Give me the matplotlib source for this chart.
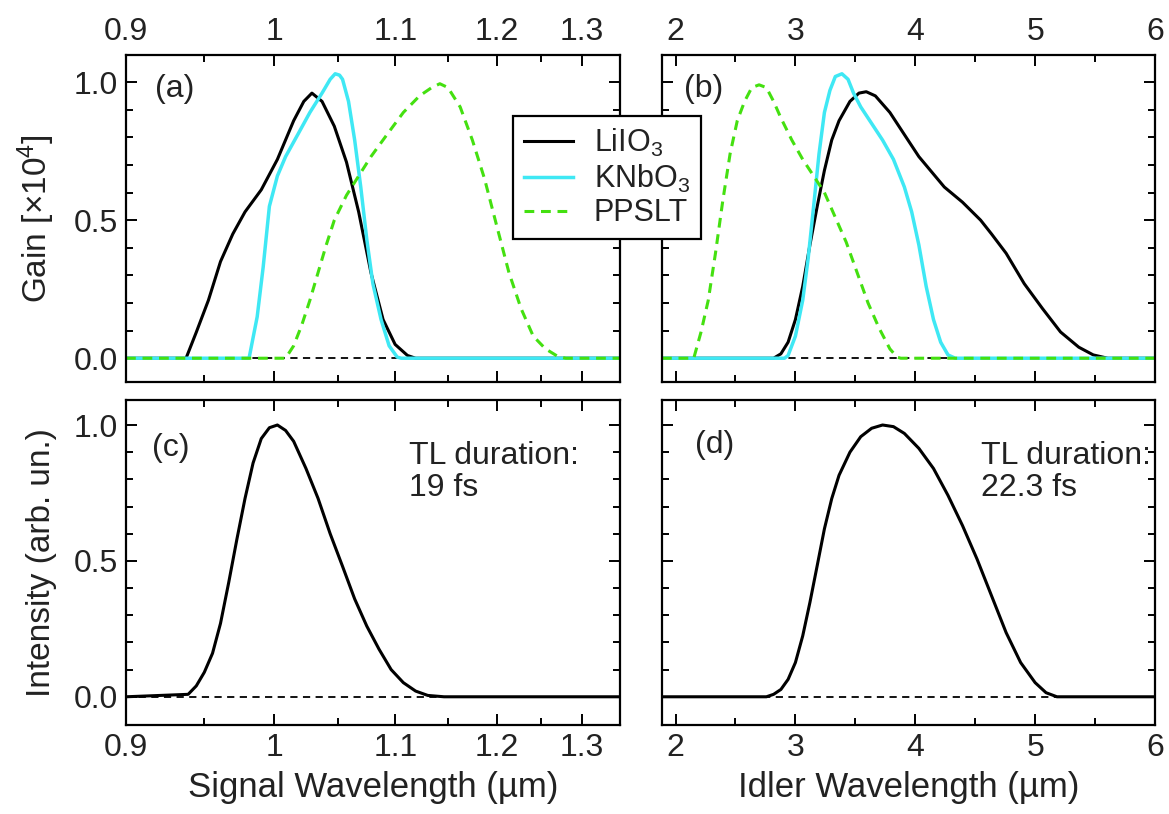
import numpy as np
import matplotlib
matplotlib.use("Agg")
from matplotlib import pyplot as plt
from matplotlib.ticker import FixedLocator, FixedFormatter

plt.rcParams['font.family'] = ['Liberation Sans', 'DejaVu Sans']
plt.rcParams['mathtext.default'] = 'regular'

# ---- data ----
# (a) gain vs signal wavelength (um)
sig_lio_x = [0.90, 0.938, 0.9448, 0.953, 0.9613, 0.9699, 0.9786, 0.9904, 1.0024, 1.0148, 1.0227,
             1.0291, 1.0372, 1.0472, 1.0573, 1.0676, 1.0782, 1.0889, 1.0997, 1.111, 1.1186, 1.35]
sig_lio_y = [0.0, 0.0, 0.094, 0.21, 0.35, 0.45, 0.53, 0.61, 0.72, 0.86, 0.93,
             0.96, 0.93, 0.84, 0.71, 0.53, 0.31, 0.14, 0.05, 0.01, 0.0, 0.0]
sig_knb_x = [0.90, 0.9815, 0.9874, 0.9918, 0.9964, 1.0024, 1.0086, 1.018, 1.0275, 1.0372, 1.0438,
             1.0479, 1.0515, 1.054, 1.059, 1.0642, 1.0694, 1.0746, 1.0799, 1.0871, 1.0943, 1.1016,
             1.1053, 1.35]
sig_knb_y = [0.0, 0.0, 0.15, 0.33, 0.55, 0.66, 0.73, 0.81, 0.89, 0.96, 1.01,
             1.03, 1.025, 1.01, 0.93, 0.79, 0.62, 0.43, 0.27, 0.14, 0.045, 0.004,
             0.0, 0.0]
sig_pps_x = [0.90, 1.0086, 1.0148, 1.0211, 1.0275, 1.034, 1.0406, 1.0472, 1.0573, 1.0676, 1.0782,
             1.0924, 1.1072, 1.1223, 1.1339, 1.1418, 1.1498, 1.162, 1.1745, 1.1872, 1.2002,
             1.2136, 1.2271, 1.241, 1.2553, 1.2698, 1.2797, 1.35]
sig_pps_y = [0.0, 0.0, 0.045, 0.12, 0.21, 0.31, 0.41, 0.50, 0.59, 0.66, 0.73,
             0.81, 0.89, 0.95, 0.98, 0.994, 0.98, 0.91, 0.79, 0.65, 0.48,
             0.31, 0.18, 0.08, 0.034, 0.007, 0.0, 0.0]

# (b) gain vs idler wavelength (um)
idl_lio_x = [1.887, 2.818, 2.879, 2.939, 3.0, 3.061, 3.121, 3.182, 3.242, 3.303, 3.364, 3.455, 3.530,
             3.591, 3.667, 3.788, 3.939, 4.030, 4.242, 4.394, 4.545, 4.636, 4.758, 4.909, 5.061,
             5.212, 5.364, 5.485, 5.606, 6.0]
idl_lio_y = [0.0, 0.0, 0.016, 0.058, 0.14, 0.26, 0.41, 0.55, 0.68, 0.79, 0.86, 0.93, 0.96,
             0.965, 0.95, 0.89, 0.79, 0.73, 0.62, 0.565, 0.50, 0.45, 0.38, 0.27, 0.18,
             0.095, 0.04, 0.012, 0.0, 0.0]
idl_knb_x = [1.887, 2.909, 2.939, 3.0, 3.061, 3.106, 3.152, 3.197, 3.242, 3.288, 3.333, 3.388, 3.439,
             3.485, 3.545, 3.636, 3.727, 3.818, 3.909, 3.970, 4.030, 4.091, 4.152, 4.212, 4.273,
             4.333, 6.0]
idl_knb_y = [0.0, 0.0, 0.01, 0.08, 0.21, 0.36, 0.55, 0.74, 0.89, 0.97, 1.02, 1.03, 1.01,
             0.96, 0.91, 0.85, 0.79, 0.72, 0.62, 0.53, 0.41, 0.26, 0.14, 0.058, 0.012,
             0.0, 0.0]
idl_pps_x = [1.887, 2.152, 2.212, 2.273, 2.333, 2.394, 2.455, 2.515, 2.576, 2.636, 2.697, 2.758,
             2.818, 2.879, 2.970, 3.061, 3.152, 3.242, 3.333, 3.424, 3.515, 3.606, 3.697,
             3.788, 3.848, 3.879, 6.0]
idl_pps_y = [0.0, 0.0, 0.094, 0.21, 0.38, 0.57, 0.74, 0.86, 0.93, 0.98, 0.99, 0.98,
             0.93, 0.87, 0.79, 0.72, 0.66, 0.60, 0.51, 0.42, 0.31, 0.20, 0.11,
             0.034, 0.004, 0.0, 0.0]

# (c) signal spectrum
sig_int_x = [0.90, 0.9394, 0.9448, 0.9502, 0.9558, 0.9613, 0.967, 0.9728, 0.9786, 0.9844, 0.9904,
             0.9964, 1.0024, 1.0086, 1.0148, 1.0244, 1.034, 1.0438, 1.054, 1.0642, 1.0746,
             1.0853, 1.0961, 1.1072, 1.1186, 1.1301, 1.1459, 1.35]
sig_int_y = [0.0, 0.009, 0.04, 0.09, 0.16, 0.27, 0.42, 0.58, 0.73, 0.86, 0.95,
             0.99, 1.0, 0.98, 0.94, 0.84, 0.73, 0.60, 0.48, 0.36, 0.26,
             0.175, 0.10, 0.052, 0.021, 0.005, 0.0, 0.0]

# (d) idler spectrum
idl_int_x = [1.887, 2.758, 2.818, 2.879, 2.939, 3.0, 3.061, 3.121, 3.182, 3.242, 3.303, 3.364,
             3.455, 3.545, 3.636, 3.727, 3.818, 3.909, 4.030, 4.152, 4.273, 4.394, 4.515,
             4.636, 4.758, 4.879, 5.0, 5.091, 5.182, 6.0]
idl_int_y = [0.0, 0.0, 0.009, 0.027, 0.064, 0.126, 0.224, 0.347, 0.483, 0.618, 0.729, 0.815,
             0.90, 0.957, 0.988, 1.0, 0.994, 0.969, 0.914, 0.84, 0.741, 0.63, 0.507,
             0.372, 0.236, 0.126, 0.052, 0.015, 0.0, 0.0]

sig_major = [0.9, 1.0, 1.1, 1.2, 1.3]
sig_major_lab = ['0.9', '1', '1.1', '1.2', '1.3']
sig_minor = [0.95, 1.05, 1.15, 1.25]
idl_major = [2, 3, 4, 5, 6]
idl_minor = [2.5, 3.5, 4.5, 5.5]

c_lio = 'black'
c_knb = '#3FE8F4'
c_pps = '#44E010'
TXT = '#222222'
FS = 23

fig = plt.figure(figsize=(11.69, 8.14), dpi=100)
W, H = 1169.0, 814.0


def make_ax(x0, x1, y0, y1):
    return fig.add_axes([x0 / W, 1 - y1 / H, (x1 - x0) / W, (y1 - y0) / H])


ax_a = make_ax(126, 620, 55, 381.7)
ax_b = make_ax(662, 1155, 55, 381.7)
ax_c = make_ax(126, 620, 400, 724.5)
ax_d = make_ax(662, 1155, 400, 724.5)


def style(ax, signal, top, ylab):
    for s in ax.spines.values():
        s.set_linewidth(1.6)
    if signal:
        ax.set_xscale('function', functions=(lambda x: -1.0 / x, lambda y: -1.0 / y))
        ax.set_xlim(0.9, 1.35)
        ax.xaxis.set_major_locator(FixedLocator(sig_major))
        ax.xaxis.set_major_formatter(FixedFormatter(sig_major_lab))
        ax.xaxis.set_minor_locator(FixedLocator(sig_minor))
    else:
        ax.set_xlim(1.887, 6.0)
        ax.xaxis.set_major_locator(FixedLocator(idl_major))
        ax.xaxis.set_major_formatter(FixedFormatter([str(v) for v in idl_major]))
        ax.xaxis.set_minor_locator(FixedLocator(idl_minor))
    ax.xaxis.set_minor_formatter(FixedFormatter([''] * 4))
    ax.set_yticks([0.0, 0.5, 1.0])
    ax.set_yticks(np.arange(0, 1.01, 0.1), minor=True)
    ax.tick_params(which='both', direction='in', top=True, right=True, width=1.4,
                   labelsize=FS, labelcolor=TXT, pad=6)
    ax.tick_params(which='major', length=8)
    ax.tick_params(which='minor', length=5)
    ax.tick_params(axis='x', labeltop=top, labelbottom=not top)
    ax.tick_params(axis='y', labelleft=ylab)
    if ylab:
        ax.yaxis.set_major_formatter(FixedFormatter(['0.0', '0.5', '1.0']))


style(ax_a, True, True, True)
style(ax_b, False, True, False)
style(ax_c, True, False, True)
style(ax_d, False, False, False)

ax_a.set_ylim(-0.085, 1.098)
ax_b.set_ylim(-0.085, 1.098)
ax_c.set_ylim(-0.102, 1.092)
ax_d.set_ylim(-0.102, 1.092)

for ax in (ax_a, ax_b, ax_c, ax_d):
    ax.axhline(0, color='black', lw=1.3, ls=(0, (4, 3)), zorder=1)

lw = 2.2
kw = dict(solid_joinstyle='round', dash_joinstyle='round')
l1, = ax_a.plot(sig_lio_x, sig_lio_y, color=c_lio, lw=lw, label='LiIO$_3$', **kw)
l2, = ax_a.plot(sig_knb_x, sig_knb_y, color=c_knb, lw=lw + 0.3, label='KNbO$_3$', **kw)
l3, = ax_a.plot(sig_pps_x, sig_pps_y, color=c_pps, lw=lw, ls=(0, (3.2, 2.2)), label='PPSLT', **kw)
ax_b.plot(idl_lio_x, idl_lio_y, color=c_lio, lw=lw, **kw)
ax_b.plot(idl_knb_x, idl_knb_y, color=c_knb, lw=lw + 0.3, **kw)
ax_b.plot(idl_pps_x, idl_pps_y, color=c_pps, lw=lw, ls=(0, (3.2, 2.2)), **kw)
ax_c.plot(sig_int_x, sig_int_y, color='black', lw=lw, **kw)
ax_d.plot(idl_int_x, idl_int_y, color='black', lw=lw, **kw)

# panel letters and notes
for ax, lab, xf, yf in ((ax_a, '(a)', 0.058, 0.897), (ax_b, '(b)', 0.045, 0.897),
                        (ax_c, '(c)', 0.052, 0.851), (ax_d, '(d)', 0.066, 0.861)):
    ax.text(xf, yf, lab, transform=ax.transAxes, fontsize=FS, color=TXT, va='center', ha='left')

ax_c.text(0.572, 0.875, 'TL duration:\n19 fs', transform=ax_c.transAxes, fontsize=FS,
          color=TXT, va='top', ha='left', linespacing=1.1)
ax_d.text(0.648, 0.875, 'TL duration:\n22.3 fs', transform=ax_d.transAxes, fontsize=FS,
          color=TXT, va='top', ha='left', linespacing=1.1)

ax_a.set_ylabel('Gain [×10$^4$]', fontsize=24, color=TXT, labelpad=12)
ax_c.set_ylabel('Intensity (arb. un.)', fontsize=24, color=TXT, labelpad=12)
ax_c.set_xlabel('Signal Wavelength (µm)', fontsize=25, color=TXT, labelpad=6)
ax_d.set_xlabel('Idler Wavelength (µm)', fontsize=25, color=TXT, labelpad=6)

leg = fig.legend(handles=[l1, l2, l3], loc='upper left',
                 bbox_to_anchor=(513 / W, 1 - 116 / H), fontsize=22,
                 frameon=True, fancybox=False, framealpha=1, edgecolor='black',
                 handlelength=1.6, borderpad=0.35, labelspacing=0.12, handletextpad=0.7,
                 borderaxespad=0)
leg.get_frame().set_linewidth(1.6)
for t in leg.get_texts():
    t.set_color(TXT)

fig.savefig('out.png', dpi=100)
